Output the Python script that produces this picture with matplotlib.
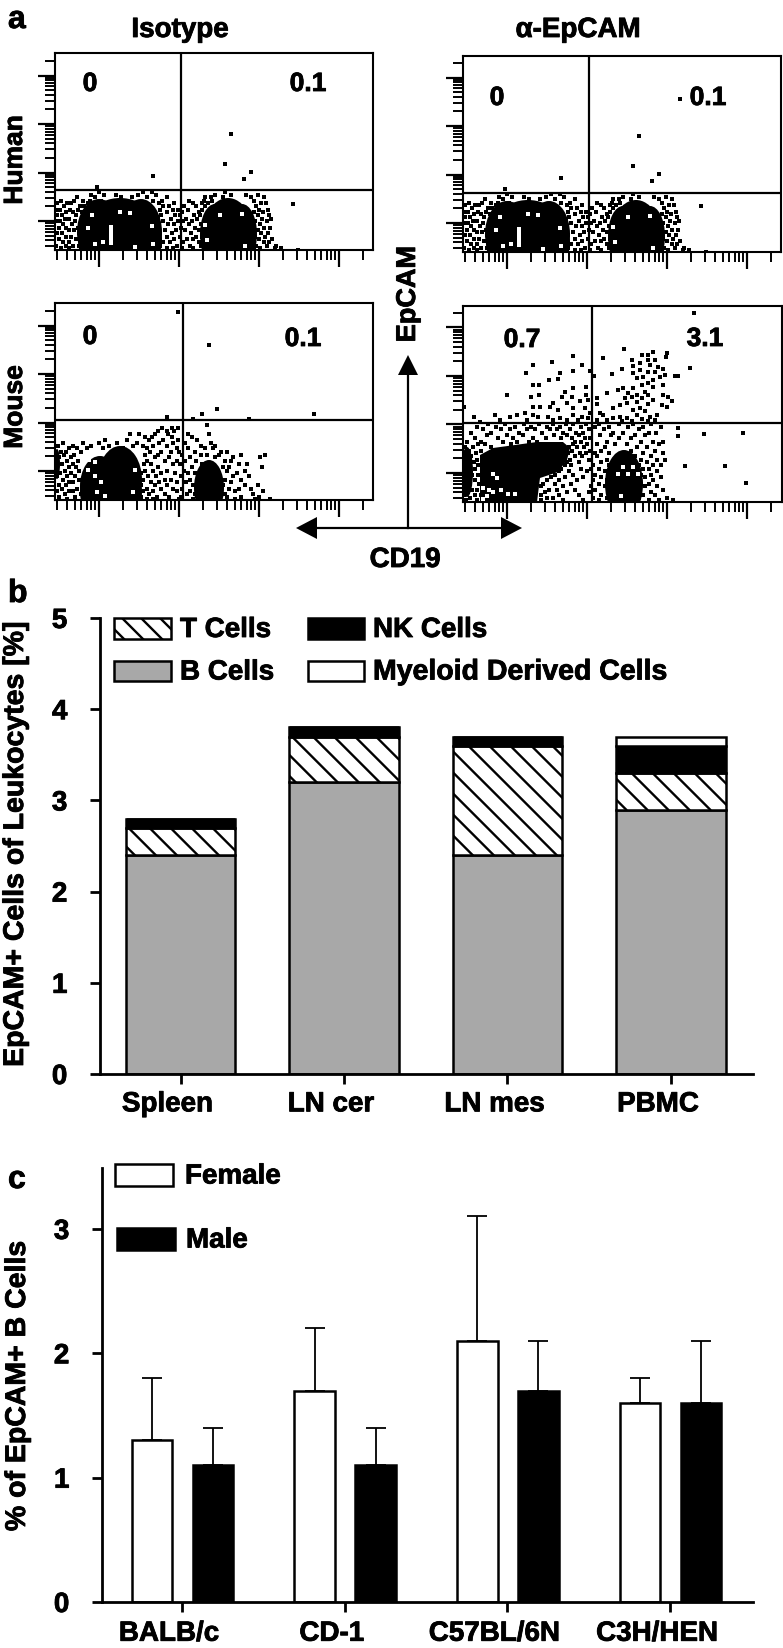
import numpy as np
import matplotlib
matplotlib.use('Agg')
import matplotlib.pyplot as plt
import matplotlib.patheffects as pe
from matplotlib.patches import Ellipse, Rectangle
from matplotlib.transforms import ScaledTranslation

plt.rcParams['font.family'] = ['Liberation Sans', 'DejaVu Sans']
plt.rcParams['font.weight'] = 'bold'

W, H = 783, 1648
HEAVY = [pe.withStroke(linewidth=0.6, foreground='k')]

# ---- panel a: events, units = channel position inside the plot ----
HUMAN_ROWS = [
    (58, [44, 88, 97, 170]),
    (55, [36, 49, 61, 83, 101, 160, 176, 191, 203]),
    (53, [22, 40, 66, 77, 92, 112, 150, 156, 168, 196, 209]),
    (49, [6, 19, 28, 35, 46, 98, 107, 134, 149, 157, 199]),
    (47, [2, 12, 16, 33, 104, 119, 138, 147, 153, 206, 211]),
    (44, [9, 25, 29, 108, 114, 129, 141, 150, 201]),
    (40, [1, 5, 15, 23, 105, 118, 123, 133, 147, 204, 213]),
    (38, [11, 18, 27, 31, 112, 127, 144, 199, 208]),
    (35, [2, 7, 21, 106, 120, 125, 139, 145, 203, 214]),
    (31, [10, 14, 28, 103, 116, 131, 142, 207, 216]),
    (29, [1, 5, 20, 26, 108, 123, 128, 137, 200, 212]),
    (26, [8, 17, 113, 119, 134, 146, 205]),
    (22, [4, 11, 23, 29, 104, 126, 140, 199, 209, 215]),
    (20, [14, 19, 110, 121, 130, 144, 203]),
    (17, [2, 7, 24, 105, 117, 136, 206, 213]),
    (13, [11, 16, 28, 112, 125, 141, 147, 200, 210]),
    (11, [4, 21, 103, 119, 132, 138, 204, 217]),
    (8, [8, 14, 26, 108, 115, 128, 144, 209, 214]),
    (4, [1, 11, 18, 24, 31, 105, 122, 135, 146, 201, 212, 221]),
    (2, [6, 14, 36, 102, 112, 118, 127, 138, 199, 205, 220, 226]),
]
HUMAN_SPARSE = [(176, 116), (170, 86), (196, 78), (189, 71), (98, 74), (42, 63), (238, 46), (243, 0)]
HUMAN_SPARSE_EXTRA = [(217, 153)]
HUMAN_CORES = [(44, 18, 44, 66), (86, 18, 42, 66), (65, 10, 84, 84),
               (160, 16, 30, 60), (187, 16, 30, 60), (173, 10, 54, 84)]
HUMAN_HOLES = [(56, 23), (56, 19), (56, 15), (56, 11), (56, 7), (65, 38), (75, 37), (37, 35), (33, 22), (40, 6),
               (165, 35), (150, 25), (152, 10), (48, 8), (80, 3), (190, 4), (97, 24), (98, 6), (187, 36)]

MOUSE_ROWS = [
    (75, [152]),
    (72, [107, 117, 123]),
    (69, [103, 112, 119]),
    (66, [75, 84, 100, 113, 133, 154]),
    (63, [90, 97, 117, 137]),
    (60, [50, 72, 94, 108, 123, 142]),
    (57, [8, 28, 44, 62, 82, 104, 118, 130, 156]),
    (54, [3, 18, 36, 54, 78, 88, 98, 112, 146, 160]),
    (52, [14, 22, 32, 48, 68, 92, 122, 133, 150, 158]),
    (48, [1, 6, 11, 26, 95, 106, 116, 124, 140, 166, 172]),
    (45, [9, 19, 90, 103, 127, 146, 152, 164, 186, 210]),
    (43, [4, 16, 100, 114, 135, 160, 178, 205]),
    (39, [12, 23, 92, 110, 122, 130, 141, 170, 176]),
    (36, [7, 18, 89, 96, 118, 125, 147, 184, 192]),
    (33, [2, 14, 21, 103, 137, 168, 174, 207]),
    (29, [10, 24, 90, 98, 112, 129, 172, 190]),
    (27, [5, 16, 86, 106, 120, 133, 140, 182]),
    (24, [2, 12, 20, 93, 101, 126, 178, 194]),
    (20, [8, 24, 88, 110, 116, 135, 170, 186]),
    (18, [14, 18, 96, 104, 122, 131, 176]),
    (15, [4, 11, 86, 100, 112, 138, 168, 190, 203]),
    (11, [7, 22, 92, 106, 118, 127, 174, 184, 196]),
    (9, [2, 14, 18, 88, 98, 122, 135, 180, 208]),
    (6, [10, 26, 94, 110, 132, 140, 170, 198]),
    (3, [4, 20, 86, 102, 114, 126, 172, 186, 204]),
    (1, [12, 30, 92, 98, 124, 138, 165, 180, 200, 215]),
]
MOUSE_SPARSE = [(123, 188), (154, 155), (147, 86), (162, 91), (138, 81), (194, 81), (259, 86), (112, 83)]
MOUSE_CORES = [(65, 20, 44, 68), (45, 14, 40, 60), (56, 8, 62, 70), (2, 36, 6, 30), (154, 12, 30, 56)]
MOUSE_HOLES = [(40, 38), (33, 30), (46, 18), (40, 24), (42, 8), (50, 4), (34, 40), (80, 30), (78, 8)]

ACTIVE_ROWS = [
    (78, [25, 42, 61, 76, 90, 103, 110, 123, 136, 156, 170, 188]),
    (75, [14, 33, 52, 68, 84, 97, 118, 132, 146, 165, 180, 198]),
    (73, [20, 38, 47, 64, 72, 87, 94, 107, 126, 141, 176]),
    (69, [8, 28, 56, 79, 100, 113, 120, 150, 160, 186, 193]),
    (67, [24, 44, 60, 91, 104, 116, 137, 148, 172, 182]),
    (64, [12, 35, 50, 70, 83, 98, 109, 122, 127, 156, 168]),
    (60, [4, 18, 40, 54, 66, 74, 112, 118, 144, 178, 190, 200]),
    (58, [15, 22, 48, 110, 124, 134, 152, 164, 196]),
    (55, [2, 10, 28, 106, 114, 121, 142, 174, 184]),
    (51, [6, 18, 109, 127, 138, 168, 192]),
    (49, [3, 13, 105, 117, 123, 132, 146, 180, 200]),
    (46, [8, 112, 119, 134, 172, 188]),
    (42, [3, 14, 107, 126, 144, 178, 194, 202]),
    (40, [6, 11, 104, 116, 138, 184]),
    (37, [1, 15, 102, 108, 130, 146, 176, 190, 198]),
    (33, [6, 12, 98, 118, 128, 136, 180, 186]),
    (31, [3, 96, 106, 124, 142, 194]),
    (27, [9, 15, 92, 110, 132, 146, 178, 188]),
    (25, [5, 88, 102, 120, 138, 182, 198]),
    (22, [2, 12, 84, 96, 114, 130, 144, 190]),
    (18, [7, 16, 80, 92, 108, 136, 178, 186]),
    (16, [3, 78, 100, 128, 142, 182, 194]),
    (12, [9, 14, 21, 86, 94, 112, 132, 176, 200]),
    (10, [5, 82, 104, 126, 146, 188]),
    (7, [1, 12, 18, 78, 96, 116, 138, 180, 192]),
    (4, [7, 22, 84, 90, 130, 144, 176, 204]),
    (2, [3, 14, 26, 32, 78, 100, 120, 136, 186, 196, 210]),
]
ACTIVE_SPARSE = [
    (231, 189), (161, 153), (110, 146), (89, 140), (70, 137), (63, 129), (97, 129), (110, 131), (119, 137),
    (127, 131), (95, 123), (86, 122), (70, 117), (76, 117), (44, 107), (76, 107), (68, 105), (102, 110),
    (110, 114), (123, 115), (99, 105), (109, 105), (123, 107), (117, 101), (104, 99), (90, 99), (87, 95),
    (77, 95), (70, 95), (95, 92), (110, 94), (125, 102), (122, 94), (1, 95), (11, 85), (32, 87), (47, 85),
    (54, 87), (62, 89), (70, 87), (75, 85), (85, 85), (97, 84), (110, 87), (119, 85), (127, 89), (125, 84),
    (17, 80), (37, 82), (64, 82), (90, 82), (104, 82), (115, 82),
    (140, 144), (131, 126), (149, 128), (159, 133), (227, 134), (212, 126), (215, 126), (134, 98), (144, 109),
    (155, 112), (134, 104), (140, 87), (150, 94), (157, 97), (190, 150), (185, 147), (179, 147), (204, 149),
    (203, 145), (192, 142), (185, 142), (169, 142), (177, 139), (187, 137), (170, 136), (195, 135), (200, 133),
    (177, 132), (185, 130), (192, 130), (170, 129), (180, 125), (197, 125), (202, 127), (174, 124), (190, 122),
    (185, 119), (200, 117), (179, 117), (160, 114), (170, 114), (190, 115), (182, 110), (165, 109), (174, 107),
    (185, 107), (200, 107), (205, 105), (162, 104), (169, 105), (179, 104), (190, 102), (209, 101), (164, 99),
    (174, 100), (185, 98), (199, 97), (204, 95), (177, 94), (170, 92), (182, 91), (194, 87), (174, 87), (187, 85),
    (164, 84), (179, 83), (157, 85), (150, 84), (137, 89), (185, 81), (192, 82), (169, 81), (144, 82), (159, 81),
    (134, 82), (215, 74), (215, 66), (241, 68), (280, 69), (222, 36), (262, 36), (283, 19),
]
ACTIVE_CORE_SHAPE = [(17, 47), (30, 54), (74, 60), (100, 60), (107, 54), (104, 42), (95, 30), (77, 24), (74, 0), (17, 0)]
ACTIVE_CORES = [(161, 18, 38, 68), (4, 30, 12, 50)]
ACTIVE_HOLES = [(30, 28), (34, 24), (30, 10), (24, 6), (45, 8), (52, 8), (20, 14), (26, 12), (38, 12), (160, 35),
                (170, 35), (155, 28), (165, 28), (175, 28), (158, 6), (20, 3)]

# ---- panel b ----
ORGANS = ['Spleen', 'LN cer', 'LN mes', 'PBMC']
B_CELLS = [2.4, 3.2, 2.4, 2.9]
T_CELLS = [0.3, 0.5, 1.2, 0.4]
NK_CELLS = [0.1, 0.1, 0.1, 0.3]
MYELOID = [0, 0, 0, 0.1]

# ---- panel c ----
STRAINS = ['BALB/c', 'CD-1', 'C57BL/6N', 'C3H/HEN']
FEMALE = [1.3, 1.7, 2.1, 1.6]
FEMALE_TOP = [1.8, 2.2, 3.1, 1.8]
MALE = [1.1, 1.1, 1.7, 1.6]
MALE_TOP = [1.4, 1.4, 2.1, 2.1]

fig = plt.figure(figsize=(W / 100, H / 100), dpi=100)


def px_axes(left, top, right, bottom):
    return fig.add_axes([left / W, 1 - bottom / H, (right - left) / W, (bottom - top) / H])


def log_ticks(first, step, limit):
    # 로그 눈금처럼: decade마다 긴 눈금, 사이에 2..9
    major = np.arange(first, limit, step)
    minor = []
    for d in np.arange(first - step, limit, step):
        minor += [d + step * np.log10(k) for k in range(2, 10)]
    minor = [m for m in minor if 0 < m < limit]
    return major, minor


def facs_panel(box, rows, sparse, cores, holes, gate, shape=None):
    ax = px_axes(*box)
    ax.set_xlim(0, box[2] - box[0])
    ax.set_ylim(0, box[3] - box[1])
    for cx, cy, w, h in cores:
        ax.add_patch(Ellipse((cx, cy), w, h, fc='k', ec='none'))
    if shape:
        ax.fill(*zip(*shape), color='k', lw=0)
    xs = [x for y, row in rows for x in row] + [p[0] for p in sparse]
    ys = [y for y, row in rows for x in row] + [p[1] for p in sparse]
    ax.scatter(xs, ys, s=5.2, c='k', marker='s', lw=0, zorder=3)
    ax.scatter(*zip(*holes), s=5.2, c='w', marker='s', lw=0, zorder=3)
    ax.axvline(gate[0], color='k', lw=1.6, zorder=4)
    ax.axhline(gate[1], color='k', lw=1.6, zorder=4)
    for s in ax.spines.values():
        s.set_linewidth(1.5)
    xmaj, xmin = log_ticks(44, 80, box[2] - box[0])
    ymaj, ymin = log_ticks(29, 48.5, box[3] - box[1])
    ax.set_xticks(xmaj)
    ax.set_xticks(xmin, minor=True)
    ax.set_yticks(ymaj)
    ax.set_yticks(ymin, minor=True)
    ax.tick_params(which='major', length=12, width=1.6, labelbottom=False, labelleft=False)
    ax.tick_params(which='minor', length=7, width=1.4)
    return ax


facs_panel((55, 53, 373, 250), HUMAN_ROWS, HUMAN_SPARSE, HUMAN_CORES, HUMAN_HOLES, (126, 60))
facs_panel((463, 56, 781, 252), HUMAN_ROWS, HUMAN_SPARSE + HUMAN_SPARSE_EXTRA, HUMAN_CORES, HUMAN_HOLES, (126, 59))
facs_panel((55, 303, 373, 500), MOUSE_ROWS, MOUSE_SPARSE, MOUSE_CORES, MOUSE_HOLES, (128, 80))
facs_panel((463, 306, 782, 502), ACTIVE_ROWS, ACTIVE_SPARSE, ACTIVE_CORES, ACTIVE_HOLES, (129, 79), ACTIVE_CORE_SHAPE)


def style_bar_axes(ax, labels, xpad):
    ax.spines[['top', 'right']].set_visible(False)
    ax.spines[['left', 'bottom']].set_linewidth(2)
    ax.set_xticks(range(4))
    ax.set_xticklabels(labels, fontsize=20)
    ax.tick_params(axis='both', length=7.5, width=2, labelsize=20)
    ax.tick_params(axis='y', pad=16)
    ax.tick_params(axis='x', pad=xpad)
    shift = ScaledTranslation(-13 / 100, 0, fig.dpi_scale_trans)
    for t in ax.get_xticklabels():
        t.set_transform(t.get_transform() + shift)
    for t in ax.get_xticklabels() + ax.get_yticklabels():
        t.set_path_effects(HEAVY)


# 패널 b
ax_b = px_axes(100, 618, 753, 1074)
ax_b.set_xlim((100 - 180.5) / 163.5, (753 - 180.5) / 163.5)
ax_b.set_ylim(0, 5)
ax_b.set_yticks(range(6))
edge = dict(edgecolor='k', linewidth=1.8, width=0.67)
bottom = np.zeros(4)
ax_b.bar(range(4), B_CELLS, color='#a8a8a8', **edge)
bottom += B_CELLS
t_bars = ax_b.bar(range(4), T_CELLS, bottom=bottom, color='w', **edge)
bottom += T_CELLS
ax_b.bar(range(4), NK_CELLS, bottom=bottom, color='k', **edge)
bottom += NK_CELLS
ax_b.bar(range(4), MYELOID, bottom=bottom, color='w', **edge)
style_bar_axes(ax_b, ORGANS, 5)

# 패널 c
ax_c = px_axes(102, 1168, 753, 1602)
ax_c.set_xlim((102 - 182) / 162.7, (753 - 182) / 162.7)
ax_c.set_ylim(0, 3.49)
ax_c.set_yticks(range(4))
pos = np.arange(4)
err_style = dict(lw=1.3, capsize=7.5, capthick=1.3, ecolor='k')
ax_c.bar(pos - 0.185, FEMALE, width=0.25, color='w', edgecolor='k', linewidth=1.8,
         yerr=[np.zeros(4), np.array(FEMALE_TOP) - FEMALE], error_kw=err_style)
ax_c.bar(pos + 0.19, MALE, width=0.25, color='k', edgecolor='k', linewidth=1.8,
         yerr=[np.zeros(4), np.array(MALE_TOP) - MALE], error_kw=err_style)
style_bar_axes(ax_c, STRAINS, 6)

# 글자, 화살표, 범례는 픽셀 좌표 overlay에
ov = fig.add_axes([0, 0, 1, 1], zorder=10)
ov.set_xlim(0, W)
ov.set_ylim(H, 0)
ov.axis('off')


def label(x, y, s, size=20, **kw):
    kw.setdefault('ha', 'center')
    kw.setdefault('va', 'center')
    ov.text(x, y, s, fontsize=size, fontweight='bold', path_effects=HEAVY, **kw)


def stripes(x0, y0, x1, y1, step=21):
    # \ 방향 빗금, 상자 안으로 clip
    box = Rectangle((x0, y0), x1 - x0, y1 - y0, transform=ov.transData)
    h = y1 - y0
    for off in np.arange(x0 - h - (x0 - y0) % step, x1 + step, step):
        line, = ov.plot([off, off + h], [y0, y1], color='k', lw=1.7)
        line.set_clip_path(box)


label(8, 28, 'a', 23, ha='left', va='baseline')
label(8, 602, 'b', 23, ha='left', va='baseline')
label(8, 1188, 'c', 23, ha='left', va='baseline')
label(180, 37, 'Isotype', ha='center', va='baseline')
label(578, 37, 'α-EpCAM', ha='center', va='baseline')
label(15, 160, 'Human', 19, rotation=90)
label(15, 407, 'Mouse', 19, rotation=90)
label(90, 84, '0', 19)
label(308, 84, '0.1', 19)
label(497, 98, '0', 19)
label(708, 98, '0.1', 19)
label(90, 337, '0', 19)
label(303, 339, '0.1', 19)
label(522, 340, '0.7', 19)
label(705, 339, '3.1', 19)
label(408, 294, 'EpCAM', 19.5, rotation=90)
label(405, 560, 'CD19', 20)
label(16, 844, 'EpCAM+ Cells of Leukocytes [%]', 20.5, rotation=90)
label(18, 1386, '% of EpCAM+ B Cells', 20.5, rotation=90)

# 화살표
ov.plot([408, 408], [528, 372], color='k', lw=1.6)
ov.plot([314, 504], [528, 528], color='k', lw=1.6)
ov.fill([408, 398, 418], [355, 375, 375], color='k', lw=0)
ov.fill([296, 317, 317], [528, 517, 539], color='k', lw=0)
ov.fill([522, 501, 501], [528, 517, 539], color='k', lw=0)

# T 세포 막대 빗금
for bar in t_bars:
    (px0, py0), (px1, py1) = ax_b.transData.transform(
        [(bar.get_x(), bar.get_y() + bar.get_height()), (bar.get_x() + bar.get_width(), bar.get_y())])
    stripes(px0, H - py0, px1, H - py1)


def swatch(x0, y0, x1, y1, text, tx, size=20, **kw):
    ov.add_patch(Rectangle((x0, y0), x1 - x0, y1 - y0, edgecolor='k', linewidth=1.8, **kw))
    label(tx, (y0 + y1) / 2 + 1.5, text, size, ha='left')


swatch(114, 618, 171, 639, 'T Cells', 180, facecolor='w')
stripes(114, 618, 171, 639, 19)
swatch(308, 618, 364, 639, 'NK Cells', 373, facecolor='k')
swatch(114, 661, 171, 681, 'B Cells', 180, facecolor='#a8a8a8')
swatch(308, 661, 364, 681, 'Myeloid Derived Cells', 373, size=20.5, facecolor='w')
swatch(115, 1164, 173, 1186, 'Female', 185, facecolor='w')
swatch(117, 1228, 175, 1250, 'Male', 186, facecolor='k')

fig.savefig('out.png', dpi=100)
